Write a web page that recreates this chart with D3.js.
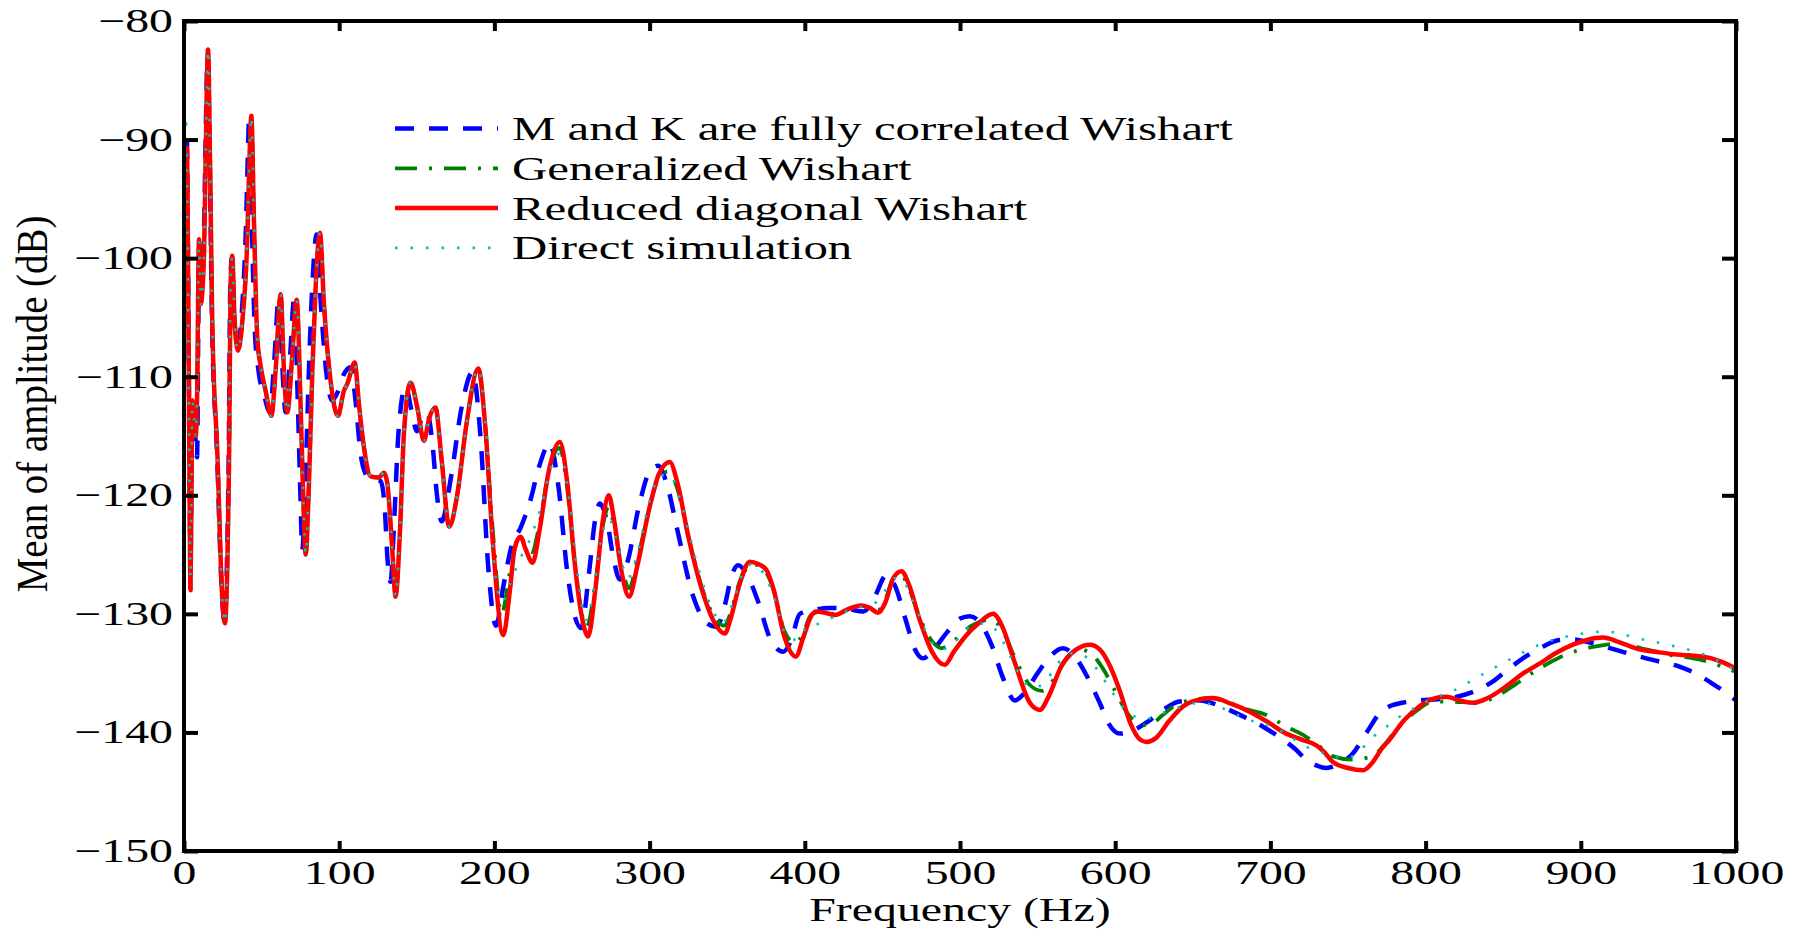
<!DOCTYPE html>
<html><head><meta charset="utf-8">
<script src="https://cdn.jsdelivr.net/npm/d3@7"></script>
<style>
html,body{margin:0;padding:0;background:#fff;}
text{font-family:"Liberation Serif","Times New Roman",serif;fill:#000;}
</style></head>
<body><svg id="chart" width="1803" height="929"></svg>
<script>
// ---------- data (frequency Hz, mean amplitude dB) ----------
const xTicks = [0,100,200,300,400,500,600,700,800,900,1000];
const xTickLabels = ["0","100","200","300","400","500","600","700","800","900","1000"];
const yTicks = [-150,-140,-130,-120,-110,-100,-90,-80];
const yTickLabels = ["\u2212150","\u2212140","\u2212130","\u2212120","\u2212110","\u2212100","\u221290","\u221280"];
const seriesNames = ["M and K are fully correlated Wishart","Generalized Wishart","Reduced diagonal Wishart","Direct simulation"];

const lowRed = [[0.3,-96],[1.8,-90.7],[2.6,-100],[3.4,-116],[4.2,-128],[4.9,-118],[5.4,-112],[6.5,-113.5],[7.5,-115],[8.4,-112],[9.7,-98.4],[10.7,-103.9],[12.9,-99.7],[14,-91.2],[15.5,-82.4],[16.8,-92],[18.2,-105.3],[21.5,-116.5],[24.7,-128.8],[26.4,-130.8],[27.9,-126],[29,-117.6],[30,-102.5],[31.1,-99.8],[32.6,-105.3],[34.8,-107.8],[37.6,-105.3],[40.8,-98.3],[42.3,-91.2],[43.4,-88],[45.1,-96.9],[47.2,-106.7],[49.4,-109.1],[52.6,-111.2],[56.3,-113.3],[59,-109.5],[62.3,-103.05],[64.4,-109.5],[66.6,-113],[69.8,-108.1],[72.6,-103.5],[75.1,-112.3],[76.9,-120.4],[78.4,-125],[80.5,-119],[82.7,-109.5],[84.8,-102.5],[87.6,-97.85],[90.2,-103.9],[94.5,-110.4],[99.2,-113.3],[103,-111.2],[105.2,-110.6],[110,-108.8],[112.7,-112.3],[116,-116],[120.2,-118.4],[125.6,-118.5],[128.8,-118.1],[131,-119],[134.2,-124.6],[136.3,-128.55],[139.1,-123.2],[141.7,-114.8],[146,-110.5],[150.3,-112.6],[154.6,-115.4],[158,-113.5],[162,-112.6],[166,-117],[170.9,-122.65],[176,-120],[182,-114],[189.6,-109.3]];

const redSeries = lowRed.concat([[194,-114],[199,-124],[205.7,-131.8],[210,-128],[213,-124.5],[216.8,-123.5],[220,-124.5],[224.6,-125.7],[229,-123],[235,-118],[242.2,-115.5],[247,-119],[252,-126],[256,-130],[260.4,-131.9],[265,-128],[270,-122],[273.7,-120],[277,-122],[282,-126.5],[286.8,-128.55],[292,-126],[300,-121],[306,-118.2],[313,-117.2],[318,-119],[325,-123.5],[335,-128.5],[342,-130.8],[348.5,-131.65],[352,-130.5],[358,-127.5],[364.6,-125.6],[370,-125.8],[375.3,-126.3],[380,-128],[387,-132],[394.2,-133.6],[399,-132],[404,-130.2],[407.5,-129.8],[413,-129.9],[419.3,-130.1],[428,-129.6],[436.5,-129.3],[442,-129.5],[447.2,-129.9],[452,-129],[457,-127],[462.3,-126.4],[467,-127.5],[474,-130.5],[482,-133.2],[490.2,-134.3],[496,-133.2],[504.1,-131.8],[512,-130.8],[521.3,-130],[527,-131],[535,-134],[545,-137.5],[551.4,-138.1],[557,-137],[565,-134.5],[575,-133],[583.6,-132.6],[590,-133],[597,-134.5],[603,-136.5],[610,-139.3],[616,-140.6],[620,-140.8],[626,-140.5],[635,-139],[643.7,-137.8],[652,-137.3],[663,-137.1],[675,-137.6],[686.6,-138.25],[698,-139.1],[710.2,-140.1],[720,-140.6],[729.6,-141.1],[735,-141.7],[740.3,-142.5],[750,-143],[759.6,-143.2],[766,-142.5],[771,-141.5],[776.8,-140.6],[786,-139],[796.1,-137.8],[804,-137.2],[813.3,-137],[822,-137.3],[830.5,-137.5],[840,-137.1],[852,-136.1],[862,-135.1],[873.4,-134.2],[884,-133.3],[894.9,-132.6],[904,-132.2],[914.2,-132],[925,-132.4],[937.8,-133],[948,-133.2],[959.3,-133.4],[970,-133.5],[978.6,-133.6],[990,-134],[1000,-134.6]]);

const blueSeries = [[0.3,-92],[1.8,-89.6],[2.7,-102],[3.6,-118],[4.2,-126],[5,-116],[6.5,-113.5],[7.5,-115.5],[8.4,-116.8],[9.2,-106],[9.8,-99],[10.7,-103.5],[12.7,-99],[13.8,-91],[15.2,-83],[16.6,-92],[18,-105],[21.3,-116.5],[24.5,-128.5],[26.2,-130.7],[27.7,-125.5],[28.8,-117],[29.8,-102.5],[30.8,-100],[32.4,-105],[34.5,-107.5],[37.3,-104.5],[40,-97],[41.2,-91],[41.9,-88.2],[43.6,-96.5],[45.6,-106],[48,-109.5],[51.5,-111.5],[55.4,-113],[58,-109],[61.2,-103.2],[63.3,-109],[65.5,-113],[68.5,-108],[70.9,-103.5],[73.3,-112],[75,-120],[76.2,-124.6],[78.3,-118.5],[80.6,-109],[82.8,-102],[85.5,-98],[88,-103.5],[92,-110],[95.5,-112],[99,-111.3],[103,-109.8],[107.4,-109.2],[110.5,-112],[113.8,-116.5],[117,-118.2],[120.2,-118.65],[126.7,-118.8],[129.3,-121],[131.2,-125.5],[133.1,-127.3],[135.3,-122.5],[138.3,-114.5],[142.8,-110.8],[146.5,-112.8],[150,-114.6],[153,-113.6],[156.5,-113],[160,-115.5],[163,-120],[166,-122.2],[172,-118.5],[179,-112.5],[185.9,-109.6],[191,-115],[196,-126],[201,-131],[206,-127.5],[211,-124.3],[217,-122.7],[223,-120.5],[229,-117.5],[235.7,-115.6],[241,-119],[247,-126.5],[252,-130.3],[256,-131.2],[261,-126.5],[265,-122],[268,-120.7],[273,-122.5],[277,-125.5],[280.8,-127.1],[286,-125.5],[293,-121],[300,-118],[305.5,-117.5],[311,-119],[318,-123],[328,-128.5],[337,-130.8],[343,-131.1],[349,-129],[352,-127.2],[357,-125.9],[362,-126.5],[370,-129],[378,-132.2],[386,-133.2],[391,-132.3],[396.8,-130],[405,-129.7],[416,-129.5],[428,-129.6],[437.6,-129.8],[442,-129.3],[446,-128.3],[452.6,-126.7],[458,-127.6],[465,-130.5],[471,-133],[476.2,-133.75],[483,-133],[492,-131.5],[500,-130.4],[506.3,-130.2],[512,-130.6],[520,-132.5],[528,-135.5],[535.3,-137.3],[542,-136.6],[550,-135],[558,-133.6],[566.4,-132.9],[574,-133.6],[582,-135.3],[590,-137.5],[596,-139.3],[603,-140.1],[612,-139.8],[622,-139],[632,-138],[641.5,-137.4],[654.4,-137.3],[668,-137.8],[680,-138.5],[695,-139.5],[708,-140.6],[716,-141.4],[723,-142.3],[730,-142.8],[736,-143],[745,-142.6],[753,-141.8],[762,-140],[772.5,-138.1],[785,-137.5],[796,-137.3],[808,-137.2],[819.7,-137],[832,-136.5],[843.4,-135.7],[852,-134.8],[862.7,-133.75],[875,-132.8],[886.3,-132.2],[895,-132.15],[905,-132.4],[916.4,-132.8],[927,-133.2],[937.8,-133.6],[950,-134],[963.6,-134.45],[975,-135.1],[985,-135.9],[993,-136.6],[1000,-137.3]];

const greenSeries = lowRed.concat([[194,-114],[199,-123],[204.6,-130],[210,-126.5],[216.4,-123.35],[220,-124.2],[224,-124.8],[229,-122.5],[235,-118],[242,-116],[247,-119.5],[252,-126],[259.4,-131.1],[265,-127.5],[270,-122.5],[273.5,-121],[277,-122.5],[282,-126],[286.8,-127.85],[292,-125.5],[300,-121],[306,-118.5],[312,-118],[318,-119.5],[325,-123.5],[335,-128.3],[342,-130.3],[348,-131],[352,-130],[358,-127.3],[364.6,-125.8],[370,-125.9],[375,-126.5],[380,-128],[387,-131.5],[394,-132.5],[399,-131.6],[404,-130.1],[410,-129.8],[419,-130],[428,-129.6],[436,-129.3],[442,-129.5],[447,-129.7],[452,-128.8],[457,-127],[462,-126.7],[467,-127.8],[474,-130.3],[482,-132.3],[488,-132.9],[496,-132.3],[504,-131.3],[512,-130.7],[520,-130.5],[527,-131.3],[535,-133.6],[545,-136],[553,-136.5],[560,-135.6],[567,-134],[577,-133],[585,-133.4],[592,-134.6],[600,-136.5],[608,-138.4],[615,-139.3],[622,-139.4],[630,-138.6],[640,-137.6],[648,-137.3],[661,-137.1],[675,-137.6],[686,-138.1],[697,-138.5],[710,-139.5],[721,-140.2],[730,-141],[740,-142],[753,-142.3],[760,-142.2],[768,-141.8],[775,-140.8],[783,-139.5],[794,-138.2],[804.7,-137.4],[815,-137.4],[832.6,-137.5],[845,-137],[858.4,-135.9],[873.4,-134.6],[886,-133.7],[899,-133.05],[912,-132.7],[925,-132.5],[942,-133],[959.3,-133.5],[970,-133.7],[980.8,-134],[990,-134.4],[1000,-134.9]]);

const cyanSeries = [[0.3,-90],[1.2,-88],[2.4,-100],[3.4,-116],[4.2,-127]].concat(lowRed.slice(5), [[194,-113.5],[200,-126],[205,-129],[210,-127.5],[216,-125.5],[222,-124],[230,-121],[237,-117.5],[242,-116.5],[248,-120],[253,-126],[259,-130.5],[264,-128],[269,-123.5],[274,-122],[279,-124],[286,-127],[292,-125],[300,-120.5],[307,-118.3],[313,-118.3],[320,-120.5],[330,-125.5],[340,-129.5],[347,-130.8],[353,-129.3],[360,-126.6],[366,-125.8],[373,-126.5],[380,-128.5],[388,-131.8],[395,-132.2],[402,-131],[410,-130.8],[418,-130.3],[428,-129.7],[437,-129.4],[445,-129.1],[452,-128],[458,-127],[463,-127.2],[470,-129],[478,-131.5],[487,-133],[495,-132.6],[503,-131.4],[512,-130.8],[520,-131],[528,-132.4],[537,-134.8],[546,-136.2],[553,-136],[560,-134.8],[567,-133.6],[574,-133.3],[582,-133.7],[590,-135],[598,-136.6],[606,-138],[613.6,-138.7],[622,-138.8],[632,-138.3],[643,-137.8],[654.4,-137.5],[668,-137.9],[680,-138.6],[690,-139.1],[701.6,-139.5],[712,-140.3],[723,-141.2],[736,-141.8],[749,-142.2],[757,-141.6],[766,-140.4],[775,-139.5],[783,-138.7],[795,-137.8],[807,-137],[816,-136.6],[830,-135.6],[852,-134],[873.4,-132.6],[895,-131.8],[916.4,-131.5],[937.8,-132.1],[959.3,-132.7],[980.8,-133.5],[1000,-134.8]]);

// ---------- layout ----------
const W = 1803, H = 929;
const L = 184, R = 1736, T = 21, B = 851;
const SX = 1.45;   // horizontal stretch of the tick/axis text in the reference
const SXL = 1.48;  // horizontal stretch of the legend text

const svg = d3.select("#chart");
svg.append("rect").attr("width", W).attr("height", H).attr("fill", "#fff");

const x = d3.scaleLinear().domain([0, 1000]).range([L, R]);
const y = d3.scaleLinear().domain([-150, -80]).range([B, T]);

svg.append("clipPath").attr("id", "clip")
  .append("rect").attr("x", L).attr("y", T).attr("width", R - L).attr("height", B - T);

const line = d3.line().x(d => x(d[0])).y(d => y(d[1])).curve(d3.curveMonotoneX);

const styles = [
  {data: blueSeries,  color: "#0000ff", width: 4.5, dash: "19,15"},
  {data: greenSeries, color: "#008000", width: 3.8, dash: "22,12,3,12"},
  {data: redSeries,   color: "#ff0000", width: 4.5, dash: null},
  {data: cyanSeries,  color: "#00bfbf", width: 2.6, dash: "2.5,13"}
];

const plot = svg.append("g").attr("clip-path", "url(#clip)");
styles.forEach(s => {
  plot.append("path").datum(s.data)
    .attr("d", line)
    .attr("fill", "none")
    .attr("stroke", s.color)
    .attr("stroke-width", s.width)
    .attr("stroke-linejoin", "round")
    .attr("stroke-dasharray", s.dash);
});

// ---------- axes ----------
const fs = 33;
const gx = svg.append("g").attr("transform", `translate(0,${B})`)
  .call(d3.axisBottom(x).tickValues(xTicks).tickFormat((d, i) => xTickLabels[i]).tickSize(-10).tickPadding(10));
const gy = svg.append("g").attr("transform", `translate(${L},0)`)
  .call(d3.axisLeft(y).tickValues(yTicks).tickFormat((d, i) => yTickLabels[i]).tickSize(-14).tickPadding(11));
const gxt = svg.append("g").attr("transform", `translate(0,${T})`)
  .call(d3.axisTop(x).tickValues(xTicks).tickFormat("").tickSize(-10));
const gyr = svg.append("g").attr("transform", `translate(${R},0)`)
  .call(d3.axisRight(y).tickValues(yTicks).tickFormat("").tickSize(-14));

[gx, gy, gxt, gyr].forEach(g => {
  g.select(".domain").remove();
  g.selectAll(".tick line").attr("stroke", "#000").attr("stroke-width", 4);
  g.selectAll("text").attr("font-size", fs).attr("font-family", null).attr("fill", "#000");
});
gx.selectAll(".tick text").attr("transform", `scale(${SX},1)`);
gy.selectAll(".tick text").attr("x", -11 / SX).attr("transform", `scale(${SX},1)`);

svg.append("rect").attr("x", L).attr("y", T).attr("width", R - L).attr("height", B - T)
  .attr("fill", "none").attr("stroke", "#000").attr("stroke-width", 4);

// axis titles
svg.append("text").attr("text-anchor", "middle").attr("font-size", 33)
  .attr("transform", `translate(960,920.5) scale(${SX},1)`).text("Frequency (Hz)");
svg.append("text").attr("text-anchor", "middle").attr("font-size", 36)
  .attr("transform", `translate(47,404) rotate(-90) scale(1.08,1.22)`).text("Mean of amplitude (dB)");

// ---------- legend ----------
const legY0 = 128.5, legDY = 39.8;
const leg = svg.append("g");
styles.forEach((s, i) => {
  const yy = legY0 + i * legDY;
  leg.append("line").attr("x1", 395).attr("x2", 498).attr("y1", yy).attr("y2", yy)
    .attr("stroke", s.color).attr("stroke-width", s.width).attr("stroke-dasharray", s.dash);
  leg.append("text").attr("font-size", 33)
    .attr("transform", `translate(512,${yy + 11.5}) scale(${SXL},1)`).text(seriesNames[i]);
});
</script></body></html>
